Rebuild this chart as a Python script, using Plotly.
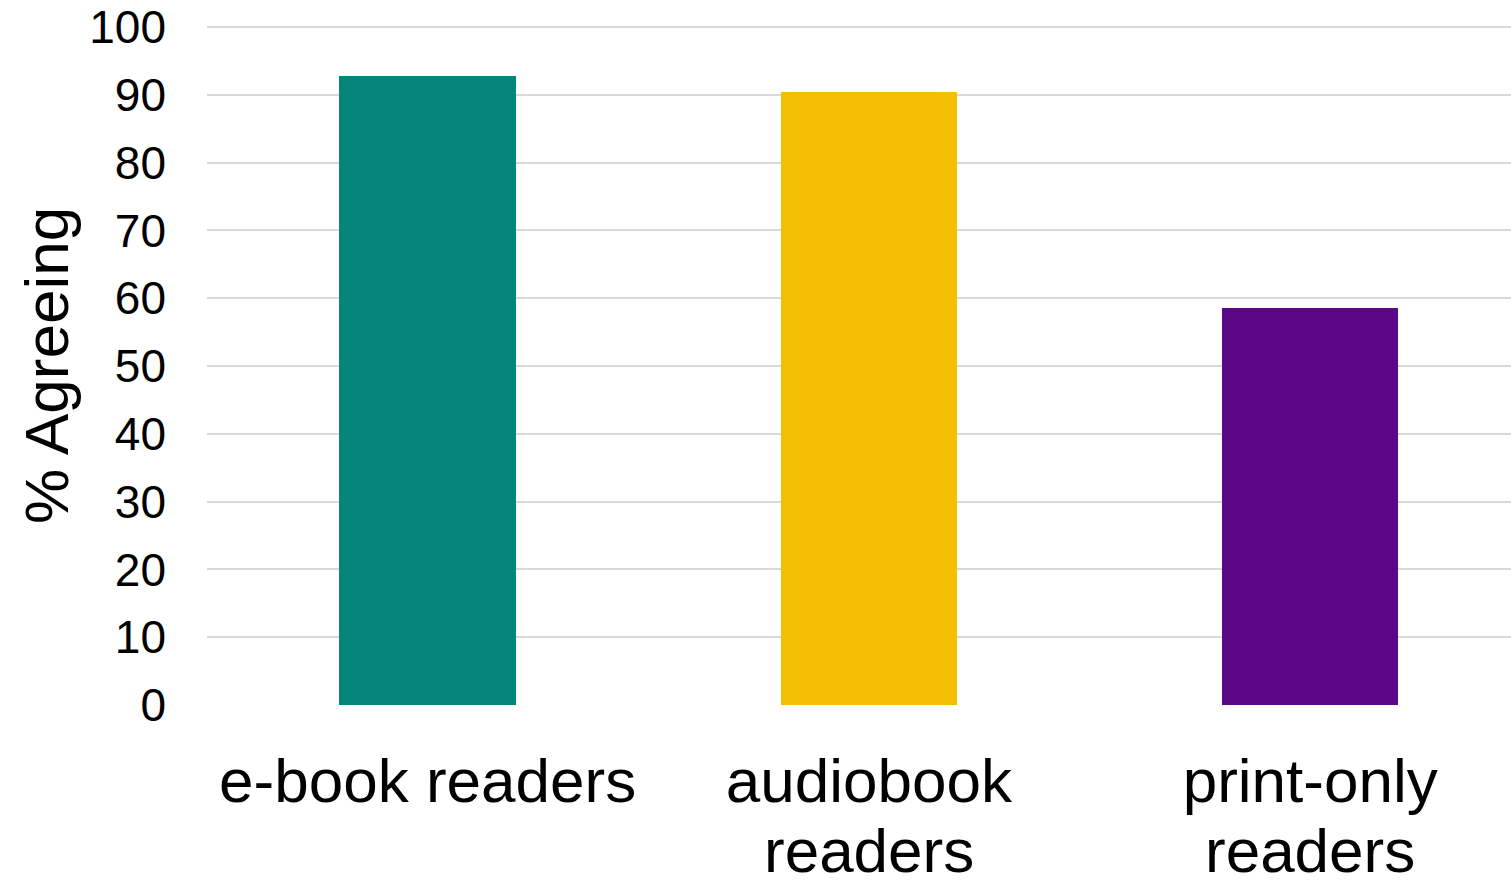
import plotly.graph_objects as go

# Share of each reader group agreeing with the statement
categories = ["e-book readers", "audiobook readers", "print-only readers"]
line1 = ["e-book readers", "audiobook", "print-only"]
line2 = ["", "readers", "readers"]
values = [92.8, 90.4, 58.5]
colors = ["#03857A", "#F4BF03", "#5C0788"]
y_ticks = [0, 10, 20, 30, 40, 50, 60, 70, 80, 90, 100]
y_title = "% Agreeing"

FONT = "Liberation Sans, Arial, sans-serif"

fig = go.Figure(
    go.Bar(
        x=list(range(len(categories))),
        y=values,
        marker=dict(color=colors, line=dict(width=0)),
        width=0.4,
        hovertext=categories,
    )
)

# second line of the two-line category labels
for i, txt in enumerate(line2):
    if txt:
        fig.add_annotation(
            x=i, xref="x", y=-0.161, yref="paper",
            text=txt, showarrow=False, yanchor="top",
            font=dict(family=FONT, size=62, color="#000000"),
        )

# vertical axis title
fig.add_annotation(
    x=-0.1235, xref="paper", y=0.5, yref="paper",
    text=y_title, showarrow=False, textangle=-90,
    xanchor="center", yanchor="middle",
    font=dict(family=FONT, size=62, color="#000000"),
)

fig.update_layout(
    width=1511, height=880,
    margin=dict(l=207, r=0, t=25, b=175),
    paper_bgcolor="white", plot_bgcolor="white",
    showlegend=False,
    font=dict(family=FONT, color="#000000"),
    bargap=0,
)

fig.update_xaxes(
    range=[-0.5, 2.455],
    tickvals=list(range(len(categories))),
    ticktext=line1,
    tickfont=dict(family=FONT, size=62, color="#000000"),
    showgrid=False, zeroline=False, showline=False,
    ticks="", ticklabelstandoff=34,
)

fig.update_yaxes(
    range=[0, 100.3],
    tickvals=y_ticks,
    tickfont=dict(family=FONT, size=46, color="#000000"),
    showgrid=True, gridcolor="#D9D9D9", gridwidth=2,
    zeroline=False, showline=False,
    ticks="", ticklabelstandoff=40,
)

fig.write_html("out.html")
